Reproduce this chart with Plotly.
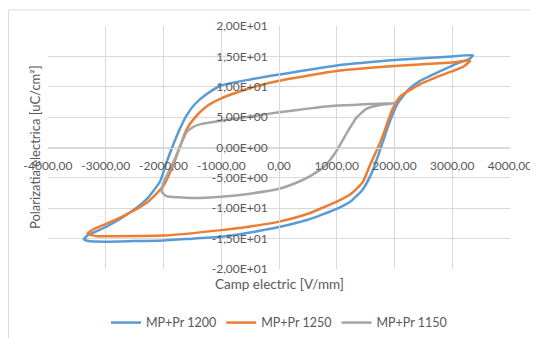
import plotly.graph_objects as go

# MP+Pr 1200 (blue)
x1200 = [3360, 3000, 2000, 1000, 0, -500, -1000, -1250, -1450, -1600, -1720, -1850, -1950, -2060, -2290,
         -2580, -2980, -3300, -3380, -3300, -3000, -2500, -2000, -1500, -1000, -500, 0, 500, 1000, 1250,
         1450, 1600, 1700, 1800, 1900, 2050, 2250, 2450, 2800, 3100, 3300, 3360]
y1200 = [15.2, 15.0, 14.4, 13.5, 12.0, 11.2, 10.2, 8.8, 7.2, 5.3, 3.0, 0.0, -2.5, -5.6, -8.5,
         -10.7, -13.0, -14.4, -15.1, -15.4, -15.5, -15.4, -15.3, -15.0, -14.7, -14.0, -13.1, -11.9, -10.1, -8.8,
         -6.9, -4.3, -1.8, 1.0, 3.8, 7.2, 9.6, 11.0, 12.6, 13.9, 14.6, 15.2]

# MP+Pr 1250 (orange)
x1250 = [3310, 3000, 2000, 1000, 0, -500, -1000, -1250, -1450, -1600, -1720, -1850, -2000, -2290, -2700,
         -3000, -3220, -3320, -3150, -3000, -2000, -1000, -500, 0, 500, 1000, 1250, 1450, 1580, 1700,
         1800, 1960, 2100, 2440, 2840, 3190, 3310]
y1250 = [14.3, 14.0, 13.4, 12.6, 11.0, 9.8, 8.1, 6.8, 5.0, 3.0, 0.0, -3.3, -6.3, -9.1, -11.3,
         -12.6, -13.5, -14.2, -14.6, -14.6, -14.5, -13.6, -13.0, -12.2, -10.9, -8.9, -7.6, -5.7, -2.8, -0.3,
         2.0, 6.2, 8.4, 10.4, 12.0, 13.3, 14.3]

# MP+Pr 1150 (gray)
x1150 = [2010, 1750, 1455, 1000, 500, 0, -500, -1000, -1370, -1500, -1600, -1700, -1800, -1900, -2000,
         -2030, -1950, -1750, -1500, -1000, -500, 0, 300, 540, 800, 1000, 1180, 1350, 1520, 1750, 2010]
y1150 = [7.3, 7.2, 7.1, 6.9, 6.4, 5.8, 5.1, 4.4, 3.8, 3.3, 2.5, 0.5, -1.8, -3.8, -5.8,
         -7.3, -8.0, -8.2, -8.3, -8.1, -7.6, -6.8, -5.8, -4.7, -3.0, -0.5, 2.5, 5.0, 6.4, 7.0, 7.3]

x_ticks = [-4000, -3000, -2000, -1000, 0, 1000, 2000, 3000, 4000]
x_ticktext = ["-4000,00", "-3000,00", "-2000,00", "-1000,00", "0,00", "1000,00", "2000,00", "3000,00", "4000,00"]
y_ticks = [-20, -15, -10, -5, 0, 5, 10, 15, 20]
y_ticktext = ["-2,00E+01", "-1,50E+01", "-1,00E+01", "-5,00E+00", "0,00E+00", "5,00E+00", "1,00E+01", "1,50E+01", "2,00E+01"]

series = [
    ("MP+Pr 1200", x1200, y1200, "#5B9BD5"),
    ("MP+Pr 1250", x1250, y1250, "#ED7D31"),
    ("MP+Pr 1150", x1150, y1150, "#A5A5A5"),
]

FONT = "Lato"
TXT = "#595959"
GRID = "#D9D9D9"

fig = go.Figure()
for name, xs, ys, col in series:
    fig.add_trace(go.Scatter(x=xs, y=ys, mode="lines", name=name,
                             line=dict(color=col, width=2.5, shape="spline", smoothing=0.5)))

fig.update_layout(
    width=530, height=330,
    margin=dict(l=40, r=28, t=18, b=69, autoexpand=False),
    paper_bgcolor="white", plot_bgcolor="white",
    font=dict(family=FONT, size=12, color=TXT),
    showlegend=True,
    legend=dict(orientation="h", x=0.5, xanchor="center", y=-0.222, yanchor="middle",
                font=dict(family=FONT, size=12.5, color=TXT), itemwidth=30, tracegroupgap=0),
    xaxis=dict(range=[-4000, 4000], tickvals=x_ticks, ticktext=x_ticktext,
               showgrid=True, gridcolor=GRID, gridwidth=1, zeroline=False,
               showline=True, linecolor=GRID, linewidth=1,
               anchor="free", position=0.5, ticks="", ticklabelstandoff=7,
               tickfont=dict(family=FONT, size=12, color=TXT)),
    yaxis=dict(range=[-20, 20], tickvals=y_ticks, ticktext=y_ticktext,
               showgrid=True, gridcolor=GRID, gridwidth=1, zeroline=False,
               showline=True, linecolor=GRID, linewidth=1,
               anchor="free", position=0.5, ticks="", ticklabelstandoff=9,
               tickfont=dict(family=FONT, size=12, color=TXT)),
    annotations=[
        dict(text="Camp electric [V/mm]", xref="paper", yref="paper", x=0.5, y=-0.062,
             xanchor="center", yanchor="middle", showarrow=False,
             font=dict(family=FONT, size=13.5, color=TXT)),
        dict(text="Polarizatia electrica [uC/cm²]", xref="paper", yref="paper", x=-0.028, y=0.502,
             xanchor="center", yanchor="middle", showarrow=False, textangle=-90,
             font=dict(family=FONT, size=13, color=TXT)),
    ],
    shapes=[
        dict(type="rect", xref="paper", yref="paper", x0=-0.0855, y0=-0.5, x1=1.2, y1=1.066,
             line=dict(color=GRID, width=1), fillcolor="rgba(0,0,0,0)", layer="below"),
    ],
)

fig.write_html("out.html")
